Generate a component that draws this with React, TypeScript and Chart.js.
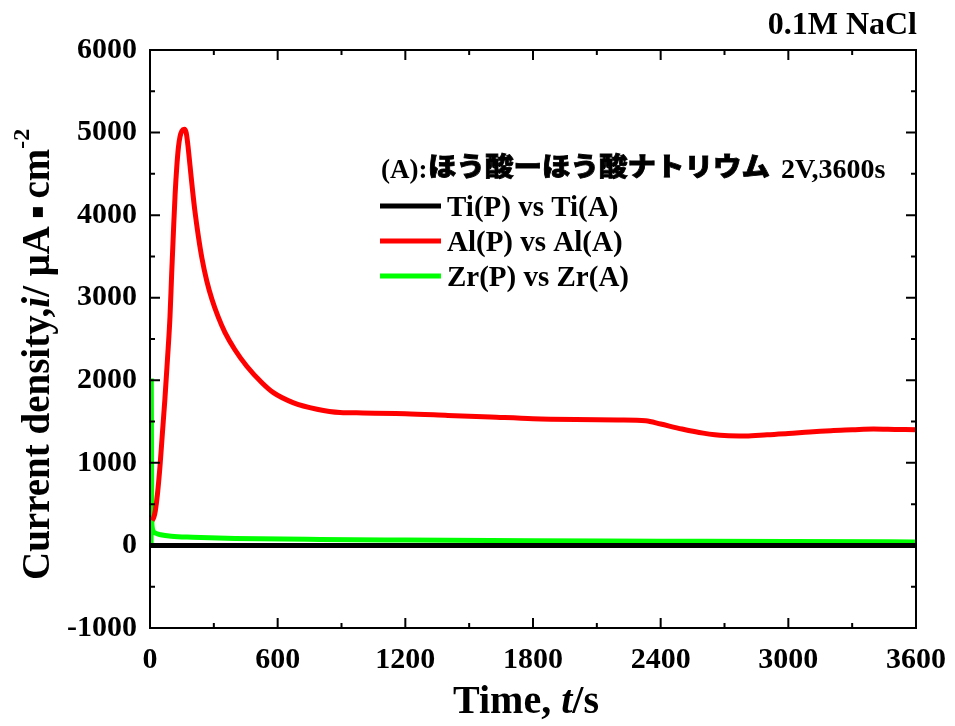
import React, { useEffect, useRef } from 'react';
import { Chart, registerables } from 'chart.js';
Chart.register(...registerables);

const SERIF = "'Liberation Serif','Times New Roman',serif";
const CJK = "'Noto Sans CJK JP','Noto Sans CJK SC',sans-serif";

// Time axis (s) and current density (µA·cm^-2)
const tiTime = [0, 300, 600, 1200, 1800, 2400, 3000, 3600];
const tiCurrent = [0, 0, 0, 0, 0, 0, 0, 0];

const alTime = [10, 18, 25, 35, 47, 58, 70, 82, 94, 102, 110, 118, 126, 134, 141, 150, 161, 170, 178, 188, 200, 211, 227, 244, 267, 291, 320, 352, 399, 455, 526, 580, 672, 785, 893, 1000, 1200, 1400, 1600, 1800, 2000, 2200, 2330, 2400, 2500, 2600, 2700, 2800, 2900, 3000, 3100, 3200, 3300, 3400, 3500, 3600];
const alCurrent = [300, 340, 420, 620, 960, 1350, 1770, 2250, 2770, 3300, 3790, 4250, 4590, 4830, 4950, 5020, 5040, 5000, 4850, 4600, 4300, 4050, 3750, 3480, 3200, 2980, 2770, 2580, 2370, 2170, 1970, 1850, 1730, 1650, 1610, 1605, 1595, 1575, 1555, 1535, 1525, 1520, 1510, 1470, 1410, 1360, 1330, 1325, 1340, 1355, 1375, 1390, 1400, 1410, 1405, 1400];

const zrTime = [5, 6, 8, 10, 14, 25, 50, 100, 200, 400, 800, 1200, 1800, 2400, 3000, 3600];
const zrCurrent = [20, 1990, 400, 230, 180, 150, 130, 112, 100, 85, 72, 65, 57, 52, 47, 43];

const xTickValues = [0, 600, 1200, 1800, 2400, 3000, 3600];
const yTickValues = [-1000, 0, 1000, 2000, 3000, 4000, 5000, 6000];

const seriesNames = ['Ti(P) vs Ti(A)', 'Al(P) vs Al(A)', 'Zr(P) vs Zr(A)'];
const seriesColors = ['#000000', '#ff0000', '#00ff00'];

const toXY = (xs: number[], ys: number[]) => xs.map((x, i) => ({ x, y: ys[i] }));

type Part = { text: string; font: string; dy?: number };
const drawParts = (ctx: CanvasRenderingContext2D, parts: Part[], x: number, y: number) => {
  let cx = x;
  for (const p of parts) {
    ctx.font = p.font;
    ctx.fillText(p.text, cx, y + (p.dy || 0));
    cx += ctx.measureText(p.text).width;
  }
  return cx;
};
const measureParts = (ctx: CanvasRenderingContext2D, parts: Part[]) => {
  let w = 0;
  for (const p of parts) {
    ctx.font = p.font;
    w += ctx.measureText(p.text).width;
  }
  return w;
};

const framePlugin = {
  id: 'frameTicks',
  afterDatasetsDraw(chart: any) {
    const ctx: CanvasRenderingContext2D = chart.ctx;
    const { left, right, top, bottom } = chart.chartArea;
    const xs = chart.scales.x;
    const ys = chart.scales.y;
    ctx.save();
    ctx.strokeStyle = '#000';
    ctx.lineWidth = 2;
    ctx.strokeRect(left, top, right - left, bottom - top);
    ctx.beginPath();
    for (let i = 0; i < xTickValues.length; i++) {
      const px = xs.getPixelForValue(xTickValues[i]);
      ctx.moveTo(px, bottom); ctx.lineTo(px, bottom - 10);
      ctx.moveTo(px, top); ctx.lineTo(px, top + 10);
      if (i < xTickValues.length - 1) {
        const mx = xs.getPixelForValue((xTickValues[i] + xTickValues[i + 1]) / 2);
        ctx.moveTo(mx, bottom); ctx.lineTo(mx, bottom - 5);
        ctx.moveTo(mx, top); ctx.lineTo(mx, top + 5);
      }
    }
    for (let i = 0; i < yTickValues.length; i++) {
      const py = ys.getPixelForValue(yTickValues[i]);
      ctx.moveTo(left, py); ctx.lineTo(left + 10, py);
      ctx.moveTo(right, py); ctx.lineTo(right - 10, py);
      if (i < yTickValues.length - 1) {
        const my = ys.getPixelForValue((yTickValues[i] + yTickValues[i + 1]) / 2);
        ctx.moveTo(left, my); ctx.lineTo(left + 5, my);
        ctx.moveTo(right, my); ctx.lineTo(right - 5, my);
      }
    }
    ctx.stroke();
    ctx.restore();
  },
  afterDraw(chart: any) {
    const ctx: CanvasRenderingContext2D = chart.ctx;
    const { right } = chart.chartArea;
    ctx.save();
    ctx.fillStyle = '#000';
    ctx.textBaseline = 'alphabetic';
    ctx.textAlign = 'left';

    // top-right label
    ctx.font = `bold 32px ${SERIF}`;
    ctx.textAlign = 'right';
    ctx.fillText('0.1M NaCl', right + 1, 34);
    ctx.textAlign = 'left';

    // x axis title
    const xParts: Part[] = [
      { text: 'Time, ', font: `bold 40px ${SERIF}` },
      { text: 't', font: `italic bold 40px ${SERIF}` },
      { text: '/s', font: `bold 40px ${SERIF}` },
    ];
    const xw = measureParts(ctx, xParts);
    drawParts(ctx, xParts, 526 - xw / 2, 713);

    // y axis title
    ctx.save();
    ctx.translate(49, 580);
    ctx.rotate(-Math.PI / 2);
    drawParts(ctx, [
      { text: 'Current density,', font: `bold 39px ${SERIF}` },
      { text: 'i', font: `italic bold 39px ${SERIF}` },
      { text: '/ μA', font: `bold 39px ${SERIF}` },
      { text: ' ▪ ', font: `bold 20px 'DejaVu Sans'`, dy: -6 },
      { text: 'cm', font: `bold 39px ${SERIF}` },
      { text: '-2', font: `bold 24px ${SERIF}`, dy: -20 },
    ], 0, 0);
    ctx.restore();

    // legend header
    ctx.font = `bold 27px ${SERIF}`;
    ctx.fillText('(A):', 381, 178);
    const jp = 'ほう酸ーほう酸ナトリウム';
    ctx.font = `900 26px ${CJK}`;
    const jw = ctx.measureText(jp).width;
    ctx.save();
    ctx.translate(428, 176);
    ctx.scale(342 / jw, 1);
    ctx.fillText(jp, 0, 0);
    ctx.strokeStyle = '#000';
    ctx.lineWidth = 0.8;
    ctx.strokeText(jp, 0, 0);
    ctx.restore();
    ctx.font = `bold 28px ${SERIF}`;
    ctx.fillText('2V,3600s', 781, 178);

    // legend rows
    const rowY = [206, 241, 276];
    for (let i = 0; i < seriesNames.length; i++) {
      ctx.strokeStyle = seriesColors[i];
      ctx.lineWidth = 5;
      ctx.beginPath();
      ctx.moveTo(380, rowY[i]);
      ctx.lineTo(441, rowY[i]);
      ctx.stroke();
      ctx.font = `bold 29px ${SERIF}`;
      ctx.fillText(seriesNames[i], 447, rowY[i] + 10);
    }
    ctx.restore();
  },
};

export default function App() {
  const ref = useRef<HTMLCanvasElement>(null);
  useEffect(() => {
    document.body.style.margin = '0';
    const tickFont = { family: SERIF, size: 30, weight: 'bold' as const };
    const chart = new Chart(ref.current!, {
      type: 'line',
      data: {
        datasets: [
          { label: seriesNames[0], data: toXY(tiTime, tiCurrent), borderColor: seriesColors[0], borderWidth: 5, pointRadius: 0 },
          { label: seriesNames[1], data: toXY(alTime, alCurrent), borderColor: seriesColors[1], borderWidth: 5, pointRadius: 0, cubicInterpolationMode: 'monotone' },
          { label: seriesNames[2], data: toXY(zrTime, zrCurrent), borderColor: seriesColors[2], borderWidth: 5, pointRadius: 0, cubicInterpolationMode: 'monotone' },
        ],
      },
      options: {
        responsive: false,
        animation: false,
        devicePixelRatio: 1,
        layout: { padding: { top: 50, right: 39, left: 0, bottom: 0 } },
        plugins: { legend: { display: false }, tooltip: { enabled: false } },
        scales: {
          x: {
            type: 'linear',
            min: 0,
            max: 3600,
            afterBuildTicks: (s: any) => { s.ticks = xTickValues.map((v) => ({ value: v })); },
            afterFit: (s: any) => { s.height = 98; s.paddingLeft = 0; s.paddingRight = 0; },
            grid: { display: false, drawTicks: false },
            border: { display: false },
            ticks: { font: tickFont, color: '#000', padding: 14, maxRotation: 0, autoSkip: false, callback: (v: any) => String(v) },
          },
          y: {
            type: 'linear',
            min: -1000,
            max: 6000,
            afterBuildTicks: (s: any) => { s.ticks = yTickValues.map((v) => ({ value: v })); },
            afterFit: (s: any) => { s.width = 150; s.paddingTop = 0; s.paddingBottom = 0; },
            grid: { display: false, drawTicks: false },
            border: { display: false },
            ticks: { font: tickFont, color: '#000', padding: 13, autoSkip: false, callback: (v: any) => String(v) },
          },
        },
      },
      plugins: [framePlugin],
    } as any);
    return () => chart.destroy();
  }, []);
  return (
    <div style={{ position: 'absolute', left: 0, top: 0, width: 955, height: 726, background: '#fff' }}>
      <canvas ref={ref} width={955} height={726} style={{ display: 'block', width: 955, height: 726 }} />
    </div>
  );
}
